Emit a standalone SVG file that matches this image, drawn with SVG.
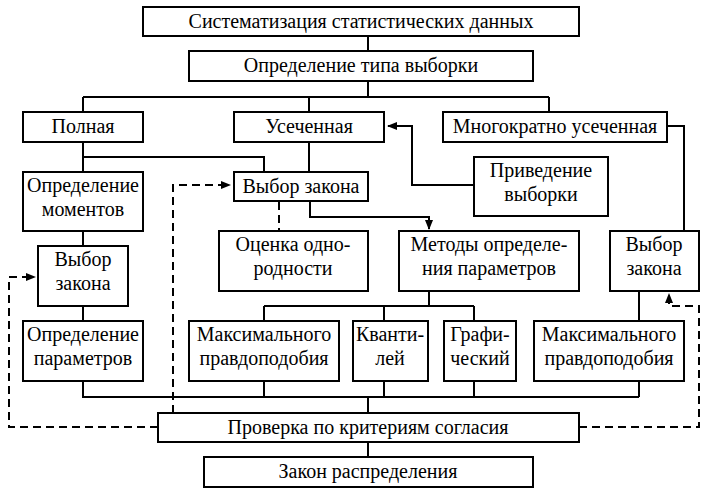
<svg xmlns="http://www.w3.org/2000/svg" width="710" height="494" viewBox="0 0 710 494">
<style>
.b{fill:#fff;stroke:#000;stroke-width:2}
.t{font-family:'Liberation Serif','Times New Roman',serif;font-size:20px;fill:#000;text-anchor:middle}
.c{fill:none;stroke:#000;stroke-width:2}
.d{fill:none;stroke:#000;stroke-width:2;stroke-dasharray:8 5}
</style>
<defs>
<marker id="ar" markerUnits="userSpaceOnUse" markerWidth="10" markerHeight="10" viewBox="0 0 10 10" refX="9" refY="5" orient="auto">
<path d="M0 1 L10 5 L0 9 Z" fill="#000"/>
</marker>
</defs>
<rect width="710" height="494" fill="#fff"/>
<g id="connectors">
<path class="c" d="M368 36V51M368 81V97M83 97H549M83 97V112M309 97V112M549 97V112"/>
<path class="c" d="M667 126H684V231"/>
<path class="c" d="M608 185H412V126H388" marker-end="url(#ar)"/>
<path class="c" d="M83 142V172M83 157H264V172M309 142V172"/>
<path class="c" d="M83 231V246M83 306V321"/>
<path class="c" d="M310 201V217H429V229" marker-end="url(#ar)"/>
<path class="c" d="M429 291V306M264 306H474M264 306V321M384 306V321M474 306V321M639 291V321"/>
<path class="c" d="M83 381V397H639M264 381V397M384 381V397M474 381V397M639 381V397M368 397V413M368 442V457"/>
<path class="d" d="M173 413V185H230" marker-end="url(#ar)"/>
<path class="d" d="M279 202V231"/>
<path class="d" d="M158 427H9V277H35" marker-end="url(#ar)"/>
<path class="d" d="M579 427H699V306H669V294" marker-end="url(#ar)"/>
</g>
<g id="n1"><rect class="b" x="143" y="7" width="436" height="29"/><text class="t" x="361" y="28">Систематизация статистических данных</text></g>
<g id="n2"><rect class="b" x="189" y="51" width="344" height="30"/><text class="t" x="361" y="72">Определение типа выборки</text></g>
<g id="n3"><rect class="b" x="23" y="112" width="120" height="30"/><text class="t" x="83" y="133">Полная</text></g>
<g id="n4"><rect class="b" x="234" y="112" width="150" height="30"/><text class="t" x="309" y="133">Усеченная</text></g>
<g id="n5"><rect class="b" x="443" y="112" width="224" height="30"/><text class="t" x="555" y="133">Многократно усеченная</text></g>
<g id="n6"><rect class="b" x="23" y="172" width="120" height="59"/><text class="t" x="83" y="192">Определение</text><text class="t" x="83" y="216">моментов</text></g>
<g id="n7"><rect class="b" x="234" y="172" width="134" height="29"/><text class="t" x="301" y="193">Выбор закона</text></g>
<g id="n8"><rect class="b" x="474" y="157" width="134" height="59"/><text class="t" x="541" y="177">Приведение</text><text class="t" x="541" y="201">выборки</text></g>
<g id="n9"><rect class="b" x="38" y="246" width="90" height="60"/><text class="t" x="83" y="266">Выбор</text><text class="t" x="83" y="290">закона</text></g>
<g id="n10"><rect class="b" x="219" y="231" width="149" height="60"/><text class="t" x="293" y="251">Оценка одно-</text><text class="t" x="293" y="275">родности</text></g>
<g id="n11"><rect class="b" x="399" y="231" width="180" height="60"/><text class="t" x="489" y="251">Методы определе-</text><text class="t" x="489" y="275">ния параметров</text></g>
<g id="n12"><rect class="b" x="610" y="231" width="89" height="60"/><text class="t" x="654" y="251">Выбор</text><text class="t" x="654" y="275">закона</text></g>
<g id="n13"><rect class="b" x="23" y="321" width="120" height="60"/><text class="t" x="83" y="341">Определение</text><text class="t" x="83" y="365">параметров</text></g>
<g id="n14"><rect class="b" x="189" y="321" width="150" height="60"/><text class="t" x="264" y="341">Максимального</text><text class="t" x="264" y="365">правдоподобия</text></g>
<g id="n15"><rect class="b" x="353" y="321" width="75" height="60"/><text class="t" x="390" y="341">Кванти-</text><text class="t" x="390" y="365">лей</text></g>
<g id="n16"><rect class="b" x="444" y="321" width="72" height="60"/><text class="t" x="480" y="341">Графи-</text><text class="t" x="480" y="365">ческий</text></g>
<g id="n17"><rect class="b" x="534" y="321" width="150" height="60"/><text class="t" x="609" y="341">Максимального</text><text class="t" x="609" y="365">правдоподобия</text></g>
<g id="n18"><rect class="b" x="158" y="413" width="421" height="29"/><text class="t" x="368" y="434">Проверка по критериям согласия</text></g>
<g id="n19"><rect class="b" x="204" y="457" width="329" height="30"/><text class="t" x="368" y="478">Закон распределения</text></g>
</svg>
